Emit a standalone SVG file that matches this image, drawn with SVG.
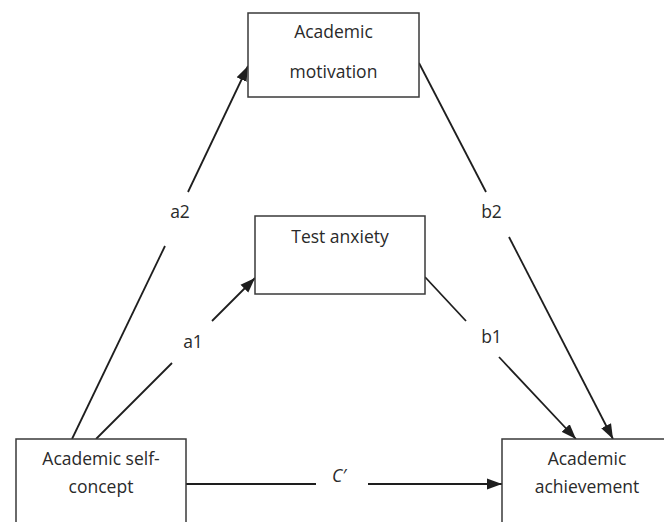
<svg xmlns="http://www.w3.org/2000/svg" width="664" height="522" viewBox="0 0 664 522">
  <style>
    .box { fill: #ffffff; stroke: #3a3a3a; stroke-width: 1.5; }
    .lbl { font-family: "Open Sans", "Noto Sans", "Liberation Sans", sans-serif; font-size: 17.5px; fill: #2a2a2a; text-anchor: middle; }
    .edge { stroke: #1e1e1e; stroke-width: 1.8; fill: none; }
    .it { font-style: italic; }
  </style>
  <defs>
    <marker id="arr" markerUnits="userSpaceOnUse" markerWidth="16" markerHeight="12" refX="15" refY="6" orient="auto">
      <path d="M0,0.5 L15,6 L0,11.5 z" fill="#1e1e1e"/>
    </marker>
  </defs>
  <rect width="664" height="522" fill="#ffffff"/>

  <g id="connectors">
    <!-- a2 -->
    <line class="edge" x1="72" y1="439" x2="165" y2="246"/>
    <line class="edge" x1="188" y1="192" x2="248" y2="66" marker-end="url(#arr)"/>
    <!-- a1 -->
    <line class="edge" x1="96" y1="439" x2="172" y2="363"/>
    <line class="edge" x1="212" y1="321" x2="255" y2="278" marker-end="url(#arr)"/>
    <!-- b2 -->
    <line class="edge" x1="419" y1="63" x2="486" y2="192"/>
    <line class="edge" x1="509" y1="237" x2="613" y2="439" marker-end="url(#arr)"/>
    <!-- b1 -->
    <line class="edge" x1="425" y1="277" x2="466" y2="321"/>
    <line class="edge" x1="499" y1="357" x2="576" y2="439" marker-end="url(#arr)"/>
    <!-- c' -->
    <line class="edge" x1="186" y1="484" x2="316" y2="484"/>
    <line class="edge" x1="368" y1="484" x2="502" y2="484" marker-end="url(#arr)"/>
    <text class="lbl" x="180" y="218">a2</text>
    <text class="lbl" x="193" y="348">a1</text>
    <text class="lbl" x="491.5" y="218">b2</text>
    <text class="lbl" x="491.5" y="343">b1</text>
    <text class="lbl it" x="339" y="482">C′</text>
  </g>

  <g id="motivation">
    <rect class="box" x="248" y="13" width="171" height="84"/>
    <text class="lbl" x="333.5" y="38">Academic</text>
    <text class="lbl" x="333.5" y="78">motivation</text>
  </g>

  <g id="anxiety">
    <rect class="box" x="255" y="216" width="170" height="78"/>
    <text class="lbl" x="340" y="243">Test anxiety</text>
  </g>

  <g id="selfconcept">
    <rect class="box" x="16" y="439" width="170" height="100"/>
    <text class="lbl" x="101" y="465">Academic self-</text>
    <text class="lbl" x="101" y="493">concept</text>
  </g>

  <g id="achievement">
    <rect class="box" x="502" y="439" width="170" height="100"/>
    <text class="lbl" x="587" y="465">Academic</text>
    <text class="lbl" x="587" y="493">achievement</text>
  </g>
</svg>
